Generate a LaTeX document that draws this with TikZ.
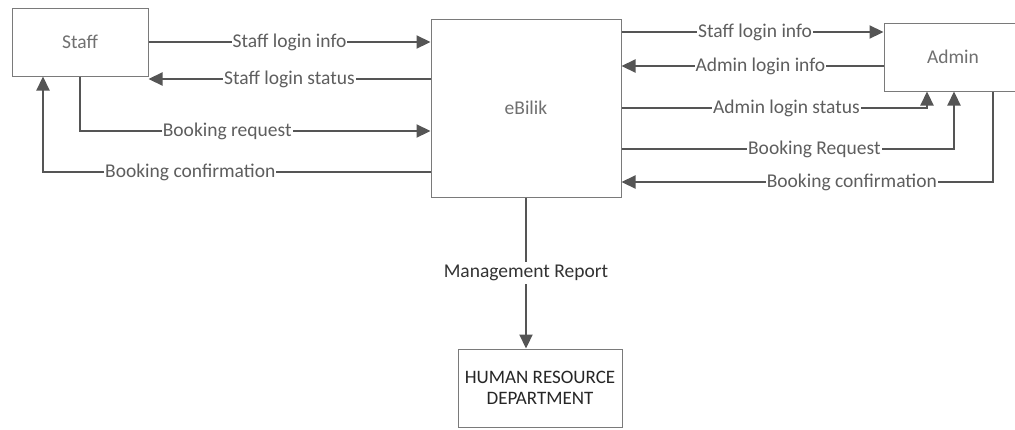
\documentclass[tikz,border=0pt]{standalone}
\usepackage{fontspec}
\setmainfont{Carlito}
\usetikzlibrary{arrows.meta}
\definecolor{linegray}{HTML}{555555}
\definecolor{textgray}{HTML}{5E5E5E}
\definecolor{boxtext}{HTML}{707070}
\definecolor{boxgray}{HTML}{7A7A7A}
\begin{document}
\begin{tikzpicture}[x=1pt,y=-1pt,
  every node/.style={font=\fontsize{19.5}{22}\selectfont},
  entity/.style={draw=boxgray, line width=1pt, fill=white, text=boxtext, inner sep=0pt},
  flow/.style={draw=linegray, line width=2.2pt, -{Triangle[length=14pt,width=13pt]}},
  lbl/.style={fill=white, text=textgray, inner sep=1pt}]
\useasboundingbox (0,0) rectangle (1015,429);
\begin{scope}
\clip (0,0) rectangle (1015,429);
\node[entity, minimum width=136pt, minimum height=68pt] (staff) at (80,42) {Staff};
\node[entity, minimum width=190pt, minimum height=178pt] (ebilik) at (526,108) {eBilik};
\node[entity, minimum width=138pt, minimum height=68pt] (admin) at (953,57) {Admin};
\node[entity, minimum width=164pt, minimum height=78pt, text=black!85, align=center,
      font=\fontsize{19}{21}\selectfont] (hr) at (540,388) {HUMAN RESOURCE\\DEPARTMENT};
\end{scope}
\coordinate (ysls) at (0,79);
\coordinate (ybr) at (0,131);
\coordinate (ybc) at (0,172);
\coordinate (xbc) at (43,0);
\coordinate (ysli) at (0,32);
\coordinate (yali) at (0,66);
\coordinate (yals) at (0,108);
\coordinate (xals) at (927,0);
\coordinate (ybrr) at (0,149);
\coordinate (xbrr) at (954,0);
\coordinate (ybcr) at (0,182);
\coordinate (xbcr) at (993,0);
% left side
\draw[flow] (staff.east) -- (ebilik.west |- staff.east)
  node[lbl, pos=0.5] {Staff login info};
\draw[flow] (ebilik.west |- ysls) -- (staff.east |- ysls)
  node[lbl, pos=0.5] {Staff login status};
\draw[flow] (staff.south) |- (ebilik.west |- ybr)
  node[lbl, pos=0.71] {Booking request};
\draw[flow] (ebilik.west |- ybc) -| (xbc |- staff.south)
  node[lbl, pos=0.31] {Booking confirmation};
% right side
\draw[flow] (ebilik.east |- ysli) -- (admin.west |- ysli)
  node[lbl, pos=0.51] {Staff login info};
\draw[flow] (admin.west |- yali) -- (ebilik.east |- yali)
  node[lbl, pos=0.47] {Admin login info};
\draw[flow] (ebilik.east |- yals) -| (xals |- admin.south)
  node[lbl, pos=0.27] {Admin login status};
\draw[flow] (ebilik.east |- ybrr) -| (xbrr |- admin.south)
  node[lbl, pos=0.29] {Booking Request};
\draw[flow] (xbcr |- admin.south) |- (ebilik.east |- ybcr)
  node[lbl, pos=0.69] {Booking confirmation};
% down
\draw[flow] (ebilik.south) -- (hr.north -| ebilik.south)
  node[lbl, pos=0.5, text=black!80, inner sep=3pt] {Management Report};
\end{tikzpicture}
\end{document}
